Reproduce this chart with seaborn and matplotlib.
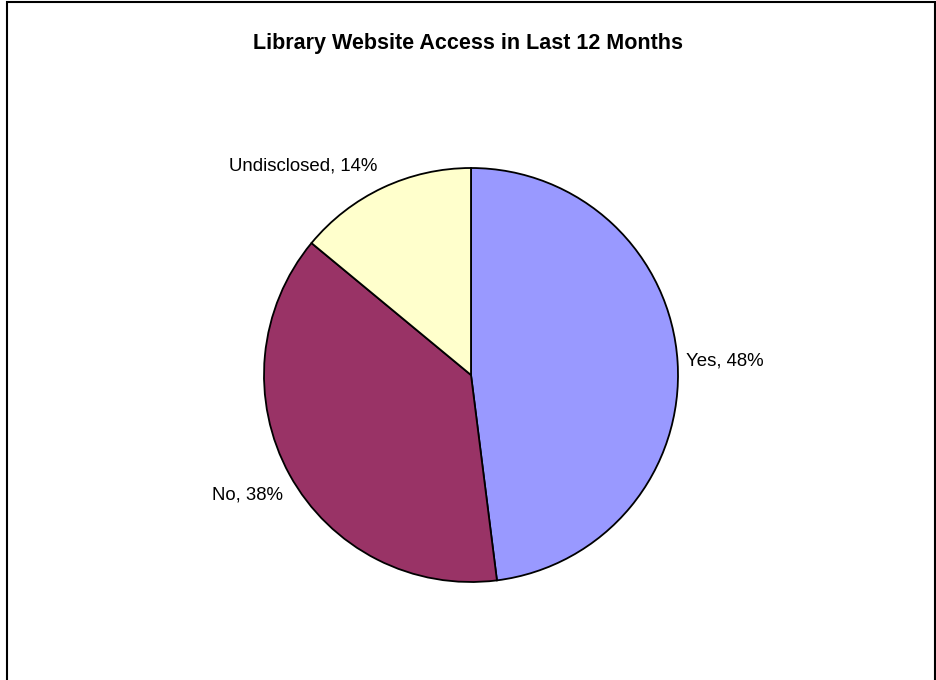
import matplotlib
matplotlib.use("Agg")
import matplotlib.pyplot as plt
import seaborn as sns

categories = ["Yes", "No", "Undisclosed"]
shares = [48, 38, 14]
colors = ["#9999FF", "#993366", "#FFFFCC"]

sns.set_theme(style="white")
plt.rcParams["font.family"] = ["Liberation Sans", "DejaVu Sans"]
plt.rcParams["text.color"] = "black"

fig = plt.figure(figsize=(9.36, 6.8), dpi=100)
ax = fig.add_axes([0, 0, 1, 1])

ax.pie(
    shares,
    colors=colors,
    startangle=90,
    counterclock=False,
    radius=1.0,
    wedgeprops=dict(edgecolor="black", linewidth=1.3),
)

ax.set_xlim(-471 / 207, (936 - 471) / 207)
ax.set_ylim((375 - 680) / 207, 375 / 207)
ax.set_aspect("equal")
ax.axis("off")

# data labels (Excel style: "Category, nn%")
label_pos = {
    "Yes": (1.04, 0.07, "left", "center"),
    "No": (-0.91, -0.58, "right", "center"),
    "Undisclosed": (-0.45, 1.01, "right", "center"),
}
for cat, pct in zip(categories, shares):
    x, y, ha, va = label_pos[cat]
    ax.text(x, y, f"{cat}, {pct}%", ha=ha, va=va, fontsize=13.4, color="black")

fig.text(0.5, 1 - 43 / 680, "Library Website Access in Last 12 Months",
         ha="center", va="center", fontsize=15.5, fontweight="bold", color="black")

# chart area border
border = plt.Rectangle((7 / 936, -0.01), (935 - 7) / 936, 1.0 - 2 / 680 + 0.01,
                       transform=fig.transFigure, fill=False,
                       edgecolor="black", linewidth=1.5)
fig.patches.append(border)

fig.savefig("out.png", dpi=100, facecolor="white")
